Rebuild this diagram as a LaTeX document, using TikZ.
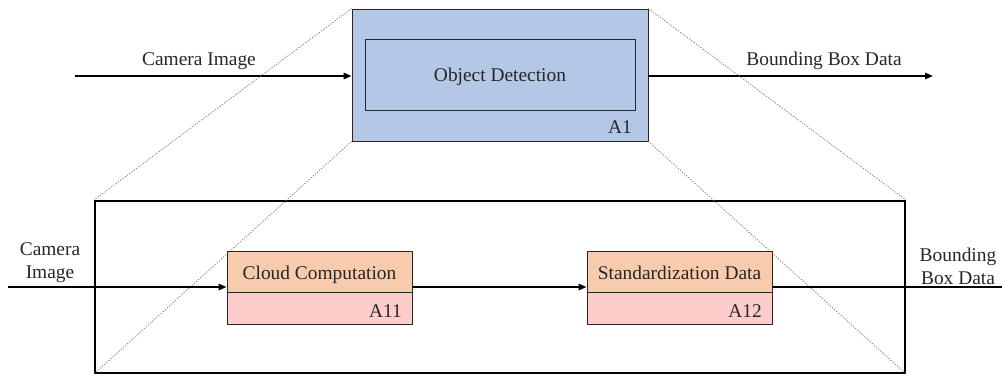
\documentclass[tikz,border=0pt]{standalone}
\usepackage{fontspec}
\setmainfont{Liberation Serif}
\usetikzlibrary{arrows.meta}
\definecolor{ink}{HTML}{262626}
\definecolor{funcblue}{HTML}{B4C7E7}
\definecolor{steporange}{HTML}{F8CBAD}
\definecolor{steppink}{HTML}{FFCCCC}

\begin{document}
\begin{tikzpicture}[
  x=0.025cm, y=-0.025cm,
  font=\fontsize{13.8}{16.5}\selectfont, text=ink,
  box/.style={draw=ink, line width=.6pt, inner sep=0pt},
  func/.style={box, fill=funcblue},
  stepname/.style={box, fill=steporange, minimum width=4.625cm, minimum height=1.025cm,
    text height=14pt, text depth=2pt},
  stepid/.style={box, fill=steppink, minimum width=4.625cm, minimum height=.8cm},
  idlabel/.style={anchor=base east, inner sep=0pt},
  frame/.style={draw=black, line width=1.3pt},
  arrow/.style={-{Triangle[length=2mm,width=1.6mm]}, draw=black, line width=1.3pt},
  flow/.style={draw=black, line width=1.3pt},
  zoomline/.style={draw=black!60, line width=.4pt, dash pattern=on 1pt off 1pt},
  label/.style={align=center, inner sep=0pt}
]
\useasboundingbox (0,0) rectangle (1002,376);

% Top level: the single function A1
\node[func, minimum width=7.4cm, minimum height=3.3cm] (a1) at (500,75) {};
\node[box, minimum width=6.75cm, minimum height=1.775cm, text height=11.5pt, text depth=2pt]
  (detect) at (500,74.5) {Object Detection};
\node[idlabel] (a1id) at (632,133) {A1};
\coordinate (topin) at (75,76);
\coordinate (topout) at (933,76);
\draw[arrow] (topin) -- (topin -| a1.west);
\draw[arrow] (topout -| a1.east) -- (topout);
\node[label, anchor=base] (topcam) at (199,65) {Camera Image};
\node[label, anchor=base] (topbbox) at (824,65) {Bounding Box Data};

% Decomposition frame with the two child steps
\node[frame, minimum width=20.25cm, minimum height=4.3cm, inner sep=0pt] (decomp) at (500,287) {};
\draw[zoomline] (a1.north west) -- (decomp.north west);
\draw[zoomline] (a1.south west) -- (decomp.south west);
\draw[zoomline] (a1.north east) -- (decomp.north east);
\draw[zoomline] (a1.south east) -- (decomp.south east);

\node[stepname] (cloud) at (319.5,271.5) {Cloud Computation};
\node[stepid, anchor=north] (cloudid) at (cloud.south) {};
\node[idlabel] (a11) at (402,317) {A11};
\node[stepname] (std) at (679.5,271.5) {Standardization Data};
\node[stepid, anchor=north] (stdid) at (std.south) {};
\node[idlabel] (a12) at (762,317) {A12};

\coordinate (lowin) at (8,287);
\coordinate (lowout) at (1002,287);
\draw[arrow] (lowin) -- (lowin -| cloud.west);
\draw[arrow] (lowin -| cloud.east) -- (lowin -| std.west);
\draw[flow] (lowin -| std.east) -- (lowout);
\node[label] (lowcam) at (50,263) {Camera\\Image};
\node[label] (lowbbox) at (958,266) {Bounding\\Box Data};
\end{tikzpicture}
\end{document}
